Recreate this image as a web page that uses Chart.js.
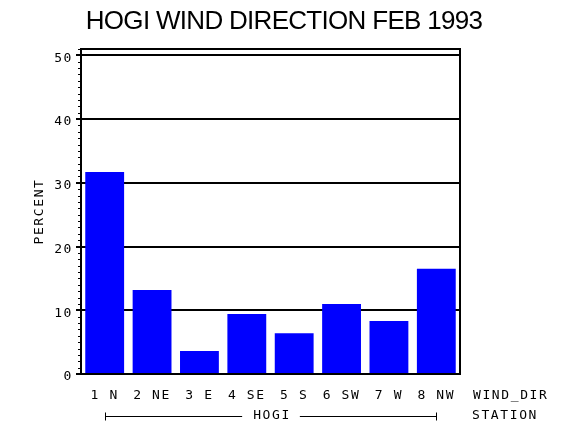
<!DOCTYPE html>
<html>
<head>
<meta charset="utf-8">
<script src="https://cdn.jsdelivr.net/npm/chart.js@4.4.1/dist/chart.umd.min.js"></script>
<style>
  html, body { margin: 0; padding: 0; background: #fff; }
</style>
</head>
<body>
<canvas id="myChart" width="570" height="430"></canvas>
<script>
// data
const categories = ['1 N', '2 NE', '3 E', '4 SE', '5 S', '6 SW', '7 W', '8 NW'];
const percent = [31.7, 13.2, 3.6, 9.4, 6.4, 11.0, 8.3, 16.5];
const yTicks = [0, 10, 20, 30, 40, 50];
const yMax = 51;

// texts
const titleText = 'HOGI WIND DIRECTION FEB 1993';
const yAxisName = 'PERCENT';
const xAxisName = 'WIND_DIR';
const groupName = 'HOGI';
const groupAxisName = 'STATION';

const monoFont = '"DejaVu Sans Mono", monospace';

// frame, minor ticks, title and the station row under the bars
const extras = {
  id: 'extras',
  beforeDraw(chart) {
    chart.ctx.letterSpacing = '1.6px';
  },
  afterDraw(chart) {
    const ctx = chart.ctx;
    const a = chart.chartArea;
    const x = chart.scales.x;
    const y = chart.scales.y;
    ctx.save();
    ctx.strokeStyle = '#000';

    // box around the plot
    const l = Math.round(a.left), r = Math.round(a.right);
    const t = Math.round(a.top), b = Math.round(a.bottom);
    ctx.lineWidth = 2;
    ctx.strokeRect(l, t, r - l, b - t);

    // minor ticks every 1 percent
    ctx.lineWidth = 1;
    ctx.beginPath();
    for (let v = 1; v <= yMax; v++) {
      if (v % 10 === 0) continue;
      const py = Math.round(y.getPixelForValue(v)) + 0.5;
      ctx.moveTo(l - 3, py);
      ctx.lineTo(l, py);
    }
    ctx.stroke();

    // title
    ctx.letterSpacing = '-0.7px';
    ctx.fillStyle = '#000';
    ctx.font = '26px "Liberation Sans", Arial, sans-serif';
    ctx.textAlign = 'center';
    ctx.textBaseline = 'middle';
    ctx.fillText(titleText, chart.width / 2 - 1, 22);

    // axis names on the right
    ctx.letterSpacing = '1.6px';
    ctx.font = '13px ' + monoFont;
    ctx.textAlign = 'left';
    ctx.fillText(xAxisName, 473, 396);
    ctx.fillText(groupAxisName, 472, 416);

    // station bracket
    const x0 = Math.round(x.getPixelForValue(0)) + 0.5;
    const x1 = Math.round(x.getPixelForValue(categories.length - 1)) + 0.5;
    const ly = 416.5;
    const mid = (x0 + x1) / 2;
    ctx.textAlign = 'center';
    ctx.fillText(groupName, mid + 1, 416);
    const half = ctx.measureText(groupName).width / 2 + 10;
    ctx.beginPath();
    ctx.moveTo(x0, ly - 4); ctx.lineTo(x0, ly + 4);
    ctx.moveTo(x0, ly); ctx.lineTo(mid - half, ly);
    ctx.moveTo(mid + half, ly); ctx.lineTo(x1, ly);
    ctx.moveTo(x1, ly - 4); ctx.lineTo(x1, ly + 4);
    ctx.stroke();
    ctx.restore();
  }
};

const ctx = document.getElementById('myChart');

const myChart = new Chart(ctx, {
  type: 'bar',
  data: {
    labels: categories,
    datasets: [{
      data: percent,
      backgroundColor: '#0000ff',
      borderWidth: 0,
      categoryPercentage: 1,
      barPercentage: 0.82
    }]
  },
  options: {
    responsive: false,
    animation: false,
    devicePixelRatio: 1,
    layout: { padding: { top: 49, right: 110, left: 0, bottom: 0 } },
    plugins: {
      legend: { display: false },
      title: { display: false },
      tooltip: { enabled: false }
    },
    scales: {
      x: {
        grid: { display: false, drawTicks: false },
        border: { display: false },
        ticks: {
          color: '#000',
          font: { family: monoFont, size: 13 },
          padding: 14,
          maxRotation: 0,
          autoSkip: false
        },
        afterFit(scale) { scale.height = 56; }
      },
      y: {
        min: 0,
        max: yMax,
        afterBuildTicks(scale) {
          scale.ticks = yTicks.map(v => ({ value: v }));
        },
        grid: {
          color: '#000',
          lineWidth: 2,
          tickLength: 5,
          tickColor: '#000'
        },
        border: { display: false },
        ticks: {
          color: '#000',
          font: { family: monoFont, size: 13 },
          padding: 3,
          labelOffset: 3
        },
        title: {
          display: true,
          text: yAxisName,
          color: '#000',
          font: { family: monoFont, size: 13 },
          padding: { top: 32 }
        },
        afterFit(scale) { scale.width = 81; }
      }
    }
  },
  plugins: [extras]
});
</script>
</body>
</html>
